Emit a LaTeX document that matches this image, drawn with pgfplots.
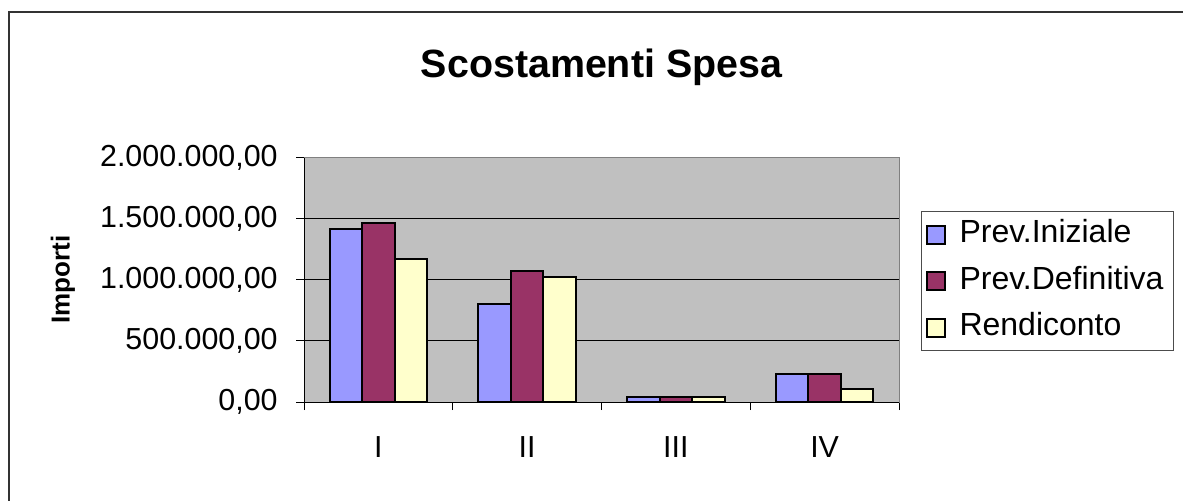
\documentclass[border=0pt]{standalone}
\usepackage{fontspec}
\setmainfont{Liberation Sans}
\usepackage{pgfplots}
\pgfplotsset{compat=1.18}
\definecolor{previni}{HTML}{9999FF}
\definecolor{prevdef}{HTML}{993366}
\definecolor{rendic}{HTML}{FFFFCC}
\definecolor{fondo}{HTML}{C0C0C0}
\definecolor{bordo}{HTML}{808080}

\pgfplotsset{
  ybar legend/.style={
    /pgfplots/legend image code/.code={\draw[##1,line width=1pt,draw=black] (0pt,-4.5pt) rectangle (9pt,4.5pt);}
  }
}

\begin{document}
\begin{tikzpicture}
\path[use as bounding box] (0,0) rectangle (591.5pt,250pt);
\draw[black!80, line width=1pt] (4.5pt,-1pt) -- (4.5pt,244pt) -- (592pt,244pt);
\begin{axis}[
  at={(152pt,49pt)}, anchor=south west,
  scale only axis, width=297.5pt, height=122.25pt,
  ybar=0pt, bar width=0.2185,
  xmin=-0.5, xmax=3.5, ymin=0, ymax=2000000,
  xtick={-0.5,0.5,1.5,2.5,3.5}, xticklabels={,,,,},
  extra x ticks={0,1,2,3}, extra x tick labels={I,II,III,IV},
  extra x tick style={major tick length=0pt},
  ytick={0,500000,1000000,1500000,2000000},
  scaled y ticks=false,
  tick pos=left,
  tick align=outside, major tick length=4pt,
  tick style={black, line width=0.5pt},
  axis background/.style={fill=fondo},
  axis line style={bordo, line width=0.5pt},
  ymajorgrids, major grid style={black, line width=0.5pt},
  ticklabel style={font=\fontsize{15.2}{18}\selectfont},
  yticklabel style={anchor=east, inner sep=0pt, xshift=-9pt,
    /pgf/number format/.cd, fixed, fixed zerofill, precision=2,
    use comma, 1000 sep={.}, assume math mode=true},
  xticklabel style={anchor=center, inner sep=0pt, yshift=-22.3pt},
  ylabel={Importi},
  ylabel style={at={(axis description cs:-0.405,0.5)}, anchor=center,
    font=\bfseries\fontsize{13}{15}\selectfont},
  title={Scostamenti Spesa},
  title style={at={(0.5,1)}, anchor=base, yshift=34pt,
    font=\bfseries\fontsize{19.7}{23}\selectfont},
  legend style={at={(1.037,0.781)}, anchor=north west, draw=black!70,
    line width=0.5pt, fill=white, font=\fontsize{16}{19}\selectfont,
    inner xsep=2pt, inner ysep=0pt,
    nodes={text height=12pt, text depth=4pt, inner ysep=3.6pt, inner xsep=3pt},
    /tikz/every odd column/.append style={column sep=4pt},
    cells={anchor=west}},
  legend cell align=left,
  after end axis/.code={
    \draw[black, line width=0.5pt] (rel axis cs:0,1) -- (rel axis cs:0,0) -- (rel axis cs:1,0);
  },
]
\addplot[fill=previni, draw=black, line width=1pt] coordinates {
(0,1416000) (1,801000) (2,42000) (3,233000)};
\addplot[fill=prevdef, draw=black, line width=1pt] coordinates {
(0,1462000) (1,1069000) (2,42000) (3,233000)};
\addplot[fill=rendic, draw=black, line width=1pt] coordinates {
(0,1170000) (1,1025000) (2,42000) (3,104000)};
\legend{Prev.Iniziale, Prev.Definitiva, Rendiconto}
\end{axis}
\end{tikzpicture}
\end{document}
